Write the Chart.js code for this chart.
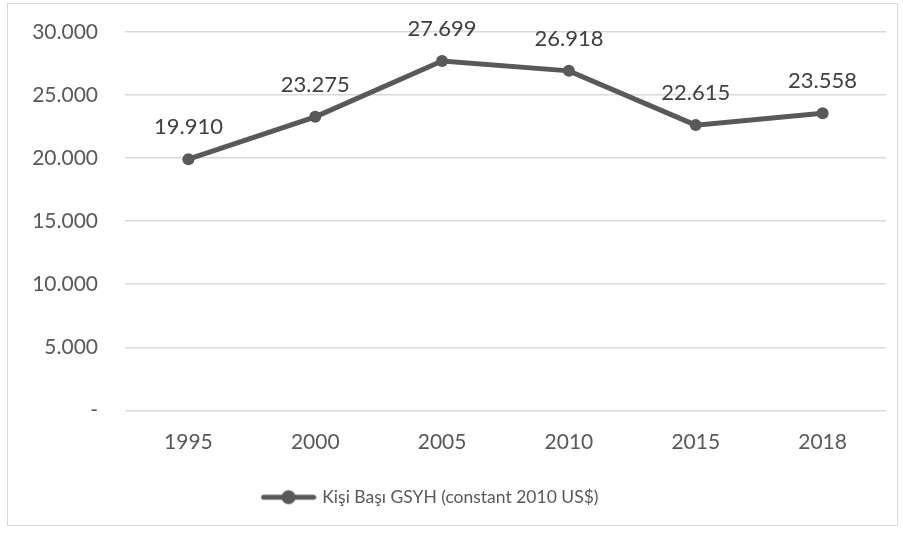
<!DOCTYPE html>
<html>
<head>
<meta charset="utf-8">
<script src="https://cdn.jsdelivr.net/npm/chart.js@4"></script>
<style>
  body { margin: 0; background: #fff; }
  #wrap { position: absolute; left: 7px; top: 3px; width: 889px; height: 521px; border: 1px solid #d9d9d9; }
</style>
</head>
<body>
<div id="wrap"><canvas id="myChart"></canvas></div>
<script>
const years = ['1995', '2000', '2005', '2010', '2015', '2018'];
const gdpPerCapita = [19910, 23275, 27699, 26918, 22615, 23558];
const seriesName = 'Kişi Başı GSYH (constant 2010 US$)';

const fmtThousands = v => v === 0 ? '-' : (v / 1000).toFixed(3);

// little legend marker: line with a dot
const marker = document.createElement('canvas');
marker.width = 56; marker.height = 16;
const mctx = marker.getContext('2d');
mctx.strokeStyle = '#595959'; mctx.lineWidth = 5; mctx.lineCap = 'round';
mctx.beginPath(); mctx.moveTo(3, 8); mctx.lineTo(53, 8); mctx.stroke();
mctx.fillStyle = '#595959';
mctx.beginPath(); mctx.arc(28, 8, 7, 0, Math.PI * 2); mctx.fill();

const valueLabels = {
  id: 'valueLabels',
  afterDatasetsDraw(chart) {
    const ctx = chart.ctx;
    const meta = chart.getDatasetMeta(0);
    ctx.save();
    ctx.font = '22px Lato';
    ctx.fillStyle = '#404040';
    ctx.textAlign = 'center';
    ctx.textBaseline = 'middle';
    meta.data.forEach((pt, i) => {
      ctx.fillText(fmtThousands(gdpPerCapita[i]), pt.x, pt.y - 32);
    });
    ctx.restore();
  }
};

// nudge the legend a bit left, like the original
const legendShift = {
  id: 'legendShift',
  afterLayout(chart) {
    chart.legend.left -= 16;
    chart.legend.right -= 16;
  }
};

const ctx = document.getElementById('myChart');
new Chart(ctx, {
  type: 'line',
  data: {
    labels: years,
    datasets: [{
      label: seriesName,
      data: gdpPerCapita,
      borderColor: '#595959',
      backgroundColor: '#595959',
      borderWidth: 5,
      pointStyle: 'circle',
      pointRadius: 6,
      pointHoverRadius: 6,
      pointBackgroundColor: '#595959',
      pointBorderWidth: 0,
      tension: 0
    }]
  },
  options: {
    responsive: true,
    maintainAspectRatio: false,
    animation: false,
    layout: { padding: { top: 28, right: 11, bottom: 9, left: 0 } },
    plugins: {
      tooltip: { enabled: false },
      legend: {
        position: 'bottom',
        labels: {
          usePointStyle: true,
          pointStyleWidth: 50,
          boxWidth: 50,
          boxHeight: 16,
          color: '#595959',
          font: { family: 'Lato', size: 17.5 },
          padding: 15,
          generateLabels: () => [{ text: seriesName, pointStyle: marker, fontColor: '#595959', lineWidth: 0, strokeStyle: 'transparent', fillStyle: 'transparent' }]
        }
      }
    },
    scales: {
      x: {
        offset: true,
        grid: { display: false, drawTicks: false },
        border: { display: false },
        ticks: { color: '#595959', font: { family: 'Lato', size: 21 }, padding: 19 }
      },
      y: {
        min: 0,
        max: 30000,
        afterFit: s => { s.width = 117; s.paddingTop = 0; s.paddingBottom = 0; },
        grid: { color: '#d9d9d9', lineWidth: 1.5, drawTicks: false },
        border: { display: false },
        ticks: { stepSize: 5000, color: '#595959', font: { family: 'Lato', size: 21 }, padding: 27, callback: v => fmtThousands(v) }
      }
    }
  },
  plugins: [valueLabels, legendShift]
});
</script>
</body>
</html>
